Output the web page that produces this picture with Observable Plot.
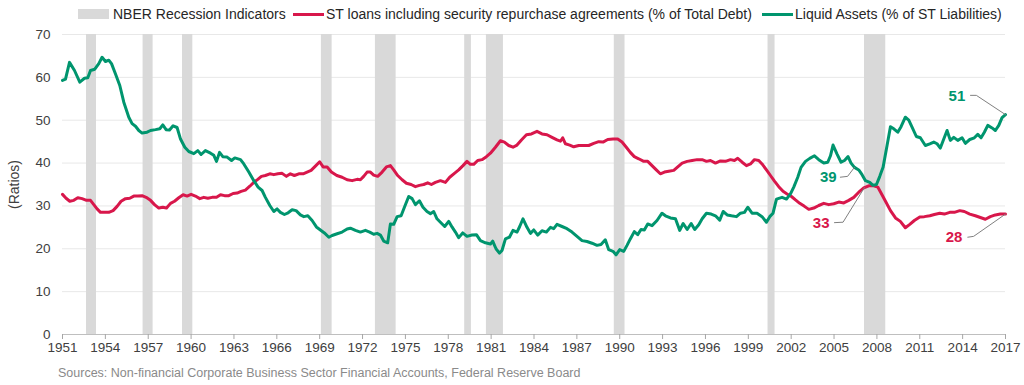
<!DOCTYPE html>
<html>
<head>
<meta charset="utf-8">
<script src="https://cdn.jsdelivr.net/npm/d3@7"></script>
<script src="https://cdn.jsdelivr.net/npm/@observablehq/plot@0.6"></script>
<style>
  body { margin: 0; background: #fff; font-family: "Liberation Sans", Arial, sans-serif; }
  #wrap { position: relative; width: 1024px; height: 385px; overflow: hidden; }
  #legend { position: relative; height: 26px; font-size: 14px; color: #262626; }
  .item { position: absolute; top: 6px; height: 16px; display: flex; align-items: center; white-space: nowrap; }
  .sw-rect { width: 31px; height: 10px; background: #d9d9d9; margin-right: 4px; }
  .sw-line { width: 31px; height: 3px; margin-right: 2px; }
  #source { position: absolute; left: 58px; top: 366px; font-size: 12.5px; color: #8a8a8a; white-space: nowrap; }
  #chart { position: absolute; left: 0; top: 26px; }
</style>
</head>
<body>
<div id="wrap">
  <div id="legend"></div>
  <div id="chart"></div>
  <div id="source"></div>
</div>
<script>
// ---------- data ----------
const RED = "#d8174b";
const GREEN = "#00956e";

const seriesNames = [
  "NBER Recession Indicators",
  "ST loans including security repurchase agreements (% of Total Debt)",
  "Liquid Assets (% of ST Liabilities)"
];
const sourceText = "Sources: Non-financial Corporate Business Sector Financial Accounts, Federal Reserve Board";
const yAxisLabel = "(Ratios)";

const xTicks = [1951,1954,1957,1960,1963,1966,1969,1972,1975,1978,1981,1984,1987,1990,1993,1996,1999,2002,2005,2008,2011,2014,2017];
const yTicks = [0,10,20,30,40,50,60,70];

const recessionStart = [1952.68, 1956.64, 1959.40, 1969.12, 1972.90, 1979.15, 1980.67, 1989.62, 2000.38, 2007.13];
const recessionEnd   = [1953.38, 1957.34, 1960.12, 1969.87, 1974.35, 1979.62, 1981.86, 1990.37, 2000.87, 2008.62];

// Liquid Assets (% of ST Liabilities): [year, value]
const liquidAssets = [
[1951.0,59.3],[1951.21,59.6],[1951.49,63.5],[1951.84,61.6],[1952.21,58.9],[1952.54,59.8],[1952.77,59.9],[1952.96,61.6],
[1953.26,61.9],[1953.54,63.2],[1953.77,64.7],[1954.01,63.7],[1954.24,64.0],[1954.43,63.2],[1954.71,60.8],[1955.01,58.1],
[1955.29,54.2],[1955.64,50.7],[1955.87,49.2],[1956.11,48.6],[1956.34,47.6],[1956.57,47.0],[1956.92,47.2],[1957.16,47.6],
[1957.51,47.8],[1957.81,48.0],[1958.02,48.9],[1958.25,47.8],[1958.49,47.7],[1958.74,48.7],[1959.02,48.3],[1959.26,45.6],
[1959.56,43.7],[1959.84,42.7],[1960.19,42.2],[1960.47,42.9],[1960.7,42.0],[1961.0,42.9],[1961.36,42.3],[1961.59,41.8],
[1961.78,40.4],[1961.99,42.5],[1962.22,41.5],[1962.52,41.4],[1962.83,40.6],[1963.06,41.2],[1963.46,40.8],[1963.69,39.8],
[1964.04,37.9],[1964.39,35.9],[1964.69,34.4],[1964.97,33.6],[1965.2,32.0],[1965.51,30.1],[1965.79,28.7],[1966.02,29.3],
[1966.25,28.5],[1966.53,28.0],[1966.79,28.4],[1967.07,29.1],[1967.35,28.9],[1967.65,27.9],[1967.89,27.5],[1968.17,27.7],
[1968.47,26.6],[1968.77,25.1],[1969.05,24.4],[1969.33,23.7],[1969.64,22.7],[1969.87,23.1],[1970.22,23.5],[1970.57,23.9],
[1970.92,24.6],[1971.15,24.8],[1971.5,24.3],[1971.85,23.9],[1972.2,24.3],[1972.5,23.9],[1972.78,23.4],[1973.02,23.6],
[1973.25,23.2],[1973.48,21.8],[1973.76,21.4],[1973.95,25.8],[1974.18,25.7],[1974.42,27.5],[1974.7,27.7],[1974.93,29.7],
[1975.23,32.2],[1975.47,31.7],[1975.7,30.3],[1975.98,31.2],[1976.23,29.7],[1976.51,28.7],[1976.75,28.2],[1976.98,28.7],
[1977.21,27.0],[1977.45,26.2],[1977.75,25.2],[1978.03,26.4],[1978.26,25.1],[1978.5,23.9],[1978.73,22.6],[1979.01,23.7],
[1979.31,22.9],[1979.66,23.2],[1979.97,23.3],[1980.25,21.9],[1980.6,21.4],[1980.95,21.1],[1981.11,21.8],[1981.34,20.0],
[1981.58,19.0],[1981.76,19.6],[1982.0,22.3],[1982.28,22.7],[1982.53,24.3],[1982.81,23.9],[1983.0,25.2],[1983.23,27.0],
[1983.51,25.0],[1983.75,23.6],[1983.98,24.4],[1984.26,23.2],[1984.56,24.2],[1984.87,23.9],[1985.15,25.0],[1985.38,24.7],
[1985.61,25.7],[1985.96,25.2],[1986.31,24.7],[1986.66,23.9],[1987.01,22.9],[1987.36,21.9],[1987.71,21.7],[1988.06,21.3],
[1988.41,20.8],[1988.69,21.0],[1988.99,22.1],[1989.23,19.8],[1989.53,19.4],[1989.74,18.6],[1990.0,19.8],[1990.28,19.4],
[1990.51,20.8],[1990.74,22.3],[1991.02,24.0],[1991.26,23.3],[1991.49,24.5],[1991.72,24.4],[1991.96,25.8],[1992.26,25.4],
[1992.61,26.6],[1992.96,28.3],[1993.2,27.7],[1993.55,27.2],[1993.9,27.0],[1994.2,24.3],[1994.44,25.9],[1994.72,24.5],
[1995.0,25.9],[1995.25,24.5],[1995.53,25.6],[1995.77,27.0],[1996.07,28.3],[1996.4,28.1],[1996.7,27.7],[1997.0,26.7],
[1997.24,28.7],[1997.52,27.9],[1997.82,27.7],[1998.17,27.5],[1998.45,28.3],[1998.73,28.5],[1998.96,29.7],[1999.26,28.3],
[1999.61,28.3],[1999.96,27.5],[2000.27,26.2],[2000.5,27.5],[2000.73,28.3],[2000.97,31.6],[2001.36,32.0],[2001.67,31.6],
[2001.95,32.8],[2002.18,34.4],[2002.46,36.7],[2002.69,39.0],[2003.0,40.4],[2003.3,41.1],[2003.63,41.7],[2003.93,40.8],
[2004.28,40.0],[2004.56,40.2],[2004.75,41.7],[2004.93,44.2],[2005.21,42.1],[2005.49,40.2],[2005.73,40.6],[2005.98,41.5],
[2006.19,40.0],[2006.43,39.0],[2006.73,38.4],[2006.96,37.3],[2007.2,35.9],[2007.5,35.5],[2007.73,34.8],[2007.97,35.0],
[2008.2,36.9],[2008.43,39.0],[2008.71,44.1],[2008.95,48.5],[2009.18,48.0],[2009.46,47.2],[2009.69,48.5],[2009.99,50.7],
[2010.23,50.0],[2010.46,48.4],[2010.76,46.2],[2011.04,45.9],[2011.39,44.1],[2011.7,44.5],[2011.98,44.9],[2012.21,44.5],
[2012.44,43.5],[2012.68,45.6],[2012.91,47.6],[2013.14,45.3],[2013.38,46.0],[2013.66,45.3],[2013.96,45.9],[2014.19,44.6],
[2014.5,45.5],[2014.82,45.9],[2015.06,46.7],[2015.29,45.9],[2015.52,47.2],[2015.76,48.8],[2016.06,48.2],[2016.29,47.6],
[2016.53,48.8],[2016.76,50.6],[2017.0,51.3]
];

// ST loans incl. security repurchase agreements (% of Total Debt): [year, value]
const stLoans = [
[1951.0,32.7],[1951.25,31.8],[1951.51,31.1],[1951.79,31.3],[1952.07,31.9],[1952.37,31.7],[1952.68,31.3],[1952.96,31.3],
[1953.19,30.3],[1953.42,29.3],[1953.66,28.5],[1953.94,28.5],[1954.24,28.5],[1954.54,28.9],[1954.82,29.9],[1955.1,31.1],
[1955.41,31.7],[1955.71,31.8],[1955.99,32.3],[1956.27,32.3],[1956.57,32.4],[1956.85,32.0],[1957.16,31.3],[1957.44,30.3],
[1957.74,29.5],[1958.02,29.7],[1958.28,29.5],[1958.56,30.6],[1958.84,31.1],[1959.14,31.9],[1959.44,32.6],[1959.72,32.3],
[1960.0,32.7],[1960.3,32.3],[1960.61,31.7],[1960.89,32.0],[1961.17,31.8],[1961.47,32.0],[1961.78,32.0],[1962.06,32.6],
[1962.34,32.4],[1962.64,32.4],[1962.94,32.9],[1963.22,33.0],[1963.5,33.4],[1963.8,33.7],[1964.11,34.6],[1964.39,35.5],
[1964.67,36.2],[1964.92,36.9],[1965.2,37.1],[1965.51,37.5],[1965.79,37.3],[1966.07,37.5],[1966.37,37.6],[1966.67,36.9],
[1966.95,37.5],[1967.23,37.1],[1967.54,37.5],[1967.84,37.5],[1968.12,37.9],[1968.4,38.3],[1968.7,39.3],[1969.0,40.3],
[1969.24,39.1],[1969.52,39.1],[1969.82,37.9],[1970.2,37.1],[1970.57,36.7],[1970.92,36.1],[1971.27,35.9],[1971.62,36.2],
[1971.85,36.1],[1972.08,36.9],[1972.32,37.9],[1972.55,37.9],[1972.78,37.2],[1973.06,36.9],[1973.37,37.9],[1973.67,39.1],
[1973.95,39.4],[1974.18,38.4],[1974.46,37.1],[1974.77,36.1],[1975.07,35.3],[1975.4,35.0],[1975.7,34.5],[1975.98,34.8],
[1976.28,35.0],[1976.56,35.4],[1976.82,35.0],[1977.1,35.5],[1977.45,35.9],[1977.8,35.5],[1978.1,36.7],[1978.43,37.6],
[1978.73,38.4],[1979.03,39.4],[1979.31,40.4],[1979.55,39.7],[1979.78,39.7],[1980.06,40.6],[1980.36,40.8],[1980.67,41.5],
[1980.95,42.3],[1981.3,43.7],[1981.65,45.2],[1981.93,44.9],[1982.23,44.1],[1982.53,43.7],[1982.81,44.2],[1983.12,45.4],
[1983.47,46.6],[1983.82,46.8],[1984.21,47.4],[1984.56,46.8],[1984.91,46.6],[1985.26,46.0],[1985.61,45.4],[1985.85,45.1],
[1986.01,45.9],[1986.2,44.5],[1986.5,44.2],[1986.78,43.8],[1987.13,44.1],[1987.48,44.1],[1987.83,44.1],[1988.18,44.6],
[1988.53,45.0],[1988.83,44.9],[1989.16,45.5],[1989.53,45.6],[1989.86,45.6],[1990.16,44.9],[1990.46,43.7],[1990.74,42.5],
[1991.02,41.5],[1991.33,41.0],[1991.68,40.4],[1991.96,40.4],[1992.26,39.4],[1992.56,38.4],[1992.84,37.5],[1993.13,37.9],
[1993.43,38.1],[1993.78,38.3],[1994.06,39.1],[1994.37,40.0],[1994.72,40.4],[1995.07,40.6],[1995.42,40.8],[1995.77,40.8],
[1996.07,40.4],[1996.35,40.6],[1996.7,40.0],[1997.05,40.5],[1997.4,40.4],[1997.75,40.8],[1998.03,40.6],[1998.26,41.1],
[1998.57,40.2],[1998.87,39.4],[1999.15,39.8],[1999.43,40.8],[1999.73,40.6],[1999.96,39.8],[2000.27,38.4],[2000.55,37.1],
[2000.83,35.8],[2001.13,34.5],[2001.43,33.4],[2001.71,32.8],[2002.02,32.2],[2002.3,31.4],[2002.6,30.6],[2002.93,29.9],
[2003.23,29.2],[2003.58,29.5],[2003.93,30.1],[2004.28,30.6],[2004.63,30.3],[2004.98,30.5],[2005.33,30.9],[2005.68,30.7],
[2006.03,31.3],[2006.38,32.0],[2006.73,33.2],[2007.08,34.2],[2007.43,34.7],[2007.78,34.7],[2008.06,34.4],[2008.29,33.0],
[2008.6,31.1],[2008.95,28.9],[2009.3,27.2],[2009.64,26.4],[2009.99,24.9],[2010.3,25.7],[2010.62,26.6],[2011.0,27.4],
[2011.32,27.5],[2011.7,27.7],[2012.02,28.0],[2012.4,28.3],[2012.72,28.1],[2013.1,28.5],[2013.42,28.5],[2013.8,28.9],
[2014.12,28.7],[2014.5,28.1],[2014.89,27.7],[2015.24,27.3],[2015.59,26.9],[2015.94,27.5],[2016.29,27.9],[2016.64,28.1],
[2017.0,28.1]
];

// Value callouts: label text, series, label anchor (year, value), leader path
const calloutText   = ["51", "39", "33", "28"];
const calloutSeries = ["liquid", "liquid", "loans", "loans"];
const calloutAt     = [[2013.6, 55.6], [2004.6, 36.7], [2004.1, 26.0], [2013.4, 22.7]];
const calloutPath   = [
  [[2014.55, 55.8], [2014.96, 55.8], [2017.0, 51.3]],
  [[2005.44, 36.7], [2005.95, 36.9], [2006.43, 39.0]],
  [[2005.03, 26.1], [2005.63, 26.2], [2007.13, 34.3]],
  [[2014.36, 22.7], [2014.77, 22.9], [2017.0, 28.1]]
];

// ---------- build ----------
const liquid = liquidAssets.map(([year, value]) => ({year, value}));
const loans = stLoans.map(([year, value]) => ({year, value}));
const recessions = recessionStart.map((s, i) => ({start: s, end: recessionEnd[i]}));
const seriesColor = {liquid: GREEN, loans: RED};
const callouts = calloutText.map((t, i) => ({text: t, year: calloutAt[i][0], value: calloutAt[i][1], color: seriesColor[calloutSeries[i]]}));
const leaders = calloutPath.flatMap((p, i) => p.map(([year, value]) => ({id: i, year, value})));

// legend
const legend = document.getElementById("legend");
const lefts = [78, 293, 762];
seriesNames.forEach((name, i) => {
  const it = document.createElement("div");
  it.className = "item";
  it.style.left = lefts[i] + "px";
  const sw = document.createElement("div");
  if (i === 0) { sw.className = "sw-rect"; }
  else { sw.className = "sw-line"; sw.style.background = i === 1 ? RED : GREEN; }
  const tx = document.createElement("span");
  tx.textContent = name;
  it.appendChild(sw); it.appendChild(tx);
  legend.appendChild(it);
});
document.getElementById("source").textContent = sourceText;

const chart = Plot.plot({
  width: 1024,
  height: 334,
  marginTop: 8,
  marginBottom: 26,
  marginLeft: 62,
  marginRight: 19,
  style: {fontFamily: "'Liberation Sans', Arial, sans-serif", fontSize: "13.5px", color: "#404040", background: "white"},
  x: {domain: [1951, 2017]},
  y: {domain: [0, 70]},
  marks: [
    Plot.ruleY(yTicks.filter(d => d > 0), {stroke: "#e8e8e8", strokeWidth: 1}),
    Plot.rect(recessions, {x1: "start", x2: "end", fill: "#d9d9d9"}),
    Plot.ruleY([0], {stroke: "#bfbfbf", strokeWidth: 1}),
    Plot.axisX({ticks: xTicks, tickFormat: d => String(d), tickSize: 5, tickPadding: 3, stroke: "#a6a6a6", fill: "#404040", label: null}),
    Plot.axisY({ticks: yTicks, tickSize: 0, tickPadding: 12, fill: "#404040", label: null}),
    Plot.text([yAxisLabel], {frameAnchor: "left", text: d => d, rotate: -90, dx: -48, textAnchor: "middle", fill: "#404040", fontSize: 14}),
    Plot.line(loans, {x: "year", y: "value", stroke: RED, strokeWidth: 3, curve: "linear"}),
    Plot.line(liquid, {x: "year", y: "value", stroke: GREEN, strokeWidth: 3, curve: "linear"}),
    Plot.line(leaders, {x: "year", y: "value", z: "id", stroke: "#808080", strokeWidth: 1}),
    Plot.text(callouts, {x: "year", y: "value", text: "text", fill: "color", fontWeight: "bold", fontSize: 15})
  ]
});
document.getElementById("chart").appendChild(chart);
</script>
</body>
</html>
